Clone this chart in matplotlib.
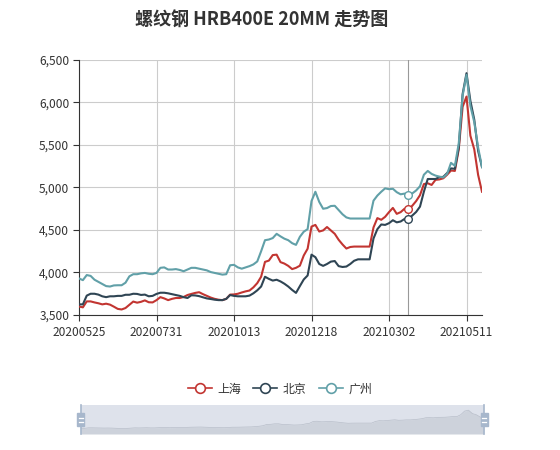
import numpy as np
import matplotlib.pyplot as plt
from matplotlib.lines import Line2D
from matplotlib.patches import Rectangle

plt.rcParams['font.family'] = ['Noto Sans CJK SC', 'DejaVu Sans']

W, H = 560, 450

title = '螺纹钢 HRB400E 20MM 走势图'
names = ['上海', '北京', '广州']
colors = ['#c23531', '#2f4554', '#61a0a8']
tick_labels = ['20200525', '20200731', '20201013', '20201218', '20210302', '20210511']
label_step = 20
hover_idx = 85

shanghai = [3600, 3590, 3660, 3660, 3648, 3638, 3625, 3633, 3622, 3598,
            3572, 3565, 3582, 3620, 3658, 3645, 3655, 3672, 3650, 3648,
            3675, 3710, 3695, 3675, 3690, 3700, 3700, 3712, 3735, 3748,
            3760, 3768, 3745, 3725, 3705, 3690, 3680, 3675, 3690, 3740,
            3742, 3750, 3765, 3778, 3788, 3825, 3875, 3950, 4125, 4140,
            4205, 4210, 4122, 4105, 4078, 4040, 4055, 4080, 4200, 4280,
            4540, 4560, 4482, 4495, 4535, 4495, 4455, 4385, 4330, 4282,
            4300, 4305, 4305, 4305, 4305, 4305, 4530, 4640, 4620, 4655,
            4710, 4760, 4690, 4710, 4750, 4745, 4785, 4840, 4910, 5040,
            5050, 5030, 5090, 5095, 5108, 5150, 5200, 5195, 5450, 5950,
            6070, 5610, 5450, 5148, 4950]

beijing = [3625, 3625, 3728, 3750, 3750, 3740, 3720, 3710, 3720, 3720,
           3725, 3725, 3738, 3738, 3750, 3748, 3736, 3740, 3720, 3725,
           3748, 3762, 3762, 3755, 3745, 3735, 3725, 3710, 3700, 3732,
           3730, 3722, 3708, 3695, 3688, 3680, 3675, 3675, 3690, 3735,
           3725, 3720, 3720, 3720, 3728, 3755, 3790, 3835, 3950, 3925,
           3905, 3915, 3895, 3868, 3835, 3795, 3760, 3840, 3918, 3965,
           4210, 4180, 4100, 4078, 4100, 4128, 4135, 4075, 4065, 4070,
           4100, 4138, 4155, 4155, 4155, 4155, 4400, 4510, 4565, 4560,
           4580, 4615, 4590, 4600, 4630, 4630, 4670, 4712, 4775, 4950,
           5100, 5100, 5100, 5122, 5125, 5170, 5225, 5220, 5470, 6100,
           6345, 6020, 5800, 5430, 5240]

guangzhou = [3930, 3910, 3970, 3960, 3915, 3890, 3865, 3840, 3835, 3848,
             3850, 3850, 3880, 3955, 3980, 3980, 3990, 3995, 3985, 3980,
             3995, 4055, 4060, 4035, 4035, 4040, 4030, 4015, 4035, 4055,
             4055, 4045, 4035, 4025, 4005, 3995, 3985, 3975, 3980, 4085,
             4090, 4060, 4045, 4060, 4075, 4095, 4130, 4250, 4380, 4388,
             4405, 4455, 4425, 4398, 4380, 4345, 4325, 4420, 4480, 4510,
             4840, 4950, 4830, 4750, 4758, 4782, 4785, 4735, 4685, 4648,
             4635, 4635, 4635, 4635, 4635, 4635, 4845, 4905, 4950, 4990,
             4980, 4985, 4945, 4920, 4928, 4915, 4930, 4965, 5015, 5150,
             5195, 5160, 5140, 5128, 5118, 5160, 5290, 5255, 5520, 6080,
             6325, 5960, 5770, 5470, 5240]

series = [shanghai, beijing, guangzhou]
x = np.arange(len(shanghai))


def fx(px):
    return px / W


def fy(py):
    return 1 - py / H


fig = plt.figure(figsize=(W / 100, H / 100), dpi=100)

# main chart
ax = fig.add_axes([fx(79), fy(315), fx(482 - 79), (315 - 60) / H])
for s, c in zip(series, colors):
    ax.plot(x, s, color=c, lw=1.5, solid_joinstyle='round', zorder=3)

# hover pointer
ax.axvline(hover_idx, color='#999999', lw=0.8, zorder=2)
for s, c in zip(series, colors):
    ax.plot(hover_idx, s[hover_idx], 'o', mfc='white', mec=c, ms=5.5, mew=1, zorder=4)

ax.set_xlim(0, len(x) - 1)
ax.set_ylim(3500, 6500)
ax.set_yticks(np.arange(3500, 6501, 500))
ax.set_yticklabels(['{:,}'.format(v) for v in range(3500, 6501, 500)])
ax.set_xticks(np.arange(0, len(x), label_step))
ax.set_xticklabels(tick_labels)
ax.tick_params(colors='#333333', labelsize=8.6, length=4, width=0.8)
ax.tick_params(axis='x', pad=4)
ax.tick_params(axis='y', pad=3)
ax.grid(color='#cccccc', lw=0.8, zorder=0)
ax.set_axisbelow(True)
for sp in ['top', 'right']:
    ax.spines[sp].set_visible(False)
for sp in ['left', 'bottom']:
    ax.spines[sp].set_color('#333333')
    ax.spines[sp].set_linewidth(0.8)

fig.text(fx(262), fy(20), title, ha='center', va='center', fontsize=13,
         fontweight='bold', color='#333333')

# legend
handles = [Line2D([], [], color=c, lw=1.2, marker='o', mfc='white', mec=c,
                  ms=7, mew=1.2) for c in colors]
fig.legend(handles, names, loc='center', bbox_to_anchor=(0.5, fy(389)), ncol=3,
           frameon=False, fontsize=8.6, handlelength=2.0, handletextpad=0.5,
           columnspacing=1.0, labelcolor='#333333')

# data zoom slider
sax = fig.add_axes([fx(80.7), fy(434), fx(484 - 80.7), 29.3 / H])
sax.set_facecolor('#dee2eb')
lo, hi = min(shanghai), max(shanghai)
pad = (hi - lo) * 0.3
sax.fill_between(x, lo - pad, shanghai, color='#cdd2db', lw=0)
sax.plot(x, shanghai, color='#b8bec9', lw=0.5)
sax.set_xlim(0, len(x) - 1)
sax.set_ylim(lo - pad, hi + pad)
sax.set_xticks([])
sax.set_yticks([])
for sp in sax.spines.values():
    sp.set_visible(False)

for hx in [80.7, 484]:
    fig.add_artist(Line2D([fx(hx), fx(hx)], [fy(404.7), fy(434)],
                          color='#a7b7cc', lw=1.2, transform=fig.transFigure))
    fig.add_artist(Rectangle((fx(hx - 3.5), fy(426)), fx(7), 13 / H,
                             color='#a7b7cc', transform=fig.transFigure))
    for by in [417.5, 422]:
        fig.add_artist(Line2D([fx(hx - 2), fx(hx + 2)], [fy(by), fy(by)],
                              color='white', lw=0.9, transform=fig.transFigure))

fig.savefig('out.png', dpi=100)
